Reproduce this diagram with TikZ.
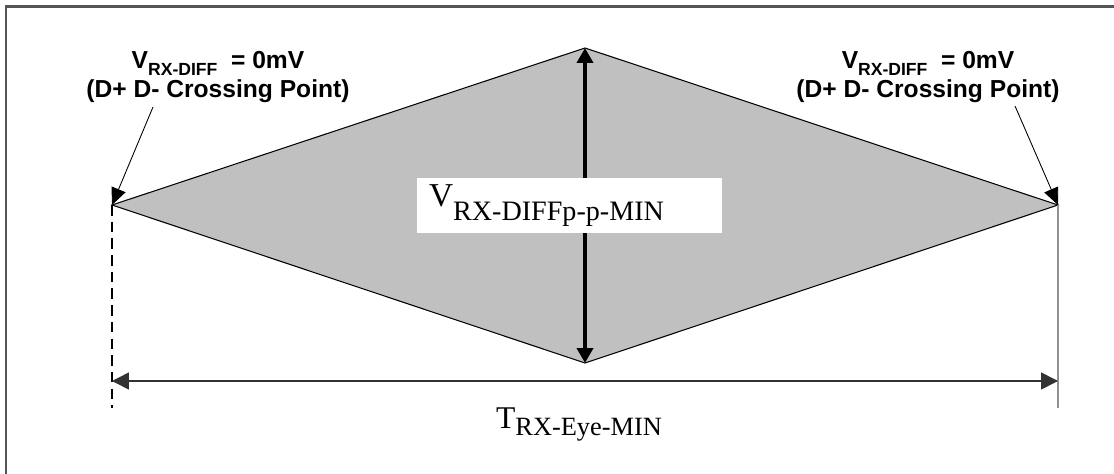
\documentclass[tikz,border=0pt]{standalone}
\usepackage{fontspec}
\setmainfont{Liberation Serif}
\newfontfamily\labelsans{Liberation Sans}
\usetikzlibrary{arrows.meta}
\definecolor{eyegray}{RGB}{192,192,192}
\definecolor{framegray}{RGB}{85,85,85}
\definecolor{edgegray}{RGB}{145,145,145}
\definecolor{dimgray}{RGB}{50,50,50}

\begin{document}
\begin{tikzpicture}[x=0.02cm, y=-0.02cm,
    pointer/.style={-{Triangle[length=0.34cm, width=0.3cm]}, line width=0.5pt},
    crosslabel/.style={align=center, inner sep=0pt,
                       font=\labelsans\bfseries\fontsize{14}{16}\selectfont},
    eyelabel/.style={inner sep=0pt, font=\fontsize{18}{18}\selectfont}]

    \useasboundingbox (0,0) rectangle (1114,473);

    % Frame
    \draw[framegray, line width=1.4pt] (6,480) -- (6,6.5) -- (1120,6.5);

    % Eye corners
    \coordinate (L) at (112,205);
    \coordinate (R) at (1058,205);
    \coordinate (T) at (585,48);
    \coordinate (B) at (585,363);
    \coordinate (Lend) at (112,408);
    \coordinate (Rend) at (1058,408);
    \coordinate (Ldim) at (112,381);
    \coordinate (Rdim) at (1058,381);

    % Eye
    \draw[fill=eyegray, line width=0.6pt] (L) -- (T) -- (R) -- (B) -- cycle;
    \draw[{Triangle[length=0.3cm, width=0.32cm]}-{Triangle[length=0.3cm, width=0.32cm]},
          line width=2.2pt] (B) -- (T);

    % Height label
    \node[fill=white, minimum width=6.1cm, minimum height=1.1cm, inner xsep=0.24cm,
          text width=5.62cm, align=left] (vlabel) at (569.5,205.5)
        {{\fontsize{19}{19}\selectfont V}\raisebox{-8pt}{\fontsize{16}{16}\selectfont RX-DIFFp-p-MIN}};

    % Edge lines
    \draw[dashed, dash pattern=on 6pt off 3.5pt, line width=0.8pt] (L) -- (Lend);
    \draw[edgegray, line width=0.9pt] (R) -- (Rend);

    % Width
    \draw[{Triangle[length=0.34cm, width=0.34cm]}-{Triangle[length=0.34cm, width=0.34cm]},
          dimgray, line width=0.9pt] (Ldim) -- (Rdim);
    \node[eyelabel, anchor=base] (tlabel) at (579,428)
        {T\raisebox{-4pt}{\fontsize{15}{15}\selectfont RX-Eye-MIN}};

    % Crossing points
    \node[crosslabel] (lcross) at (218,77)
        {V\raisebox{-3.5pt}{\fontsize{10}{10}\selectfont RX-DIFF}\ \ = 0mV\\(D+ D- Crossing Point)};
    \node[crosslabel] (rcross) at (928,77)
        {V\raisebox{-3.5pt}{\fontsize{10}{10}\selectfont RX-DIFF}\ \ = 0mV\\(D+ D- Crossing Point)};
    \coordinate (lptr) at (153,107);
    \coordinate (rptr) at (1015,106);
    \draw[pointer] (lptr) -- (L);
    \draw[pointer] (rptr) -- (R);
\end{tikzpicture}
\end{document}
